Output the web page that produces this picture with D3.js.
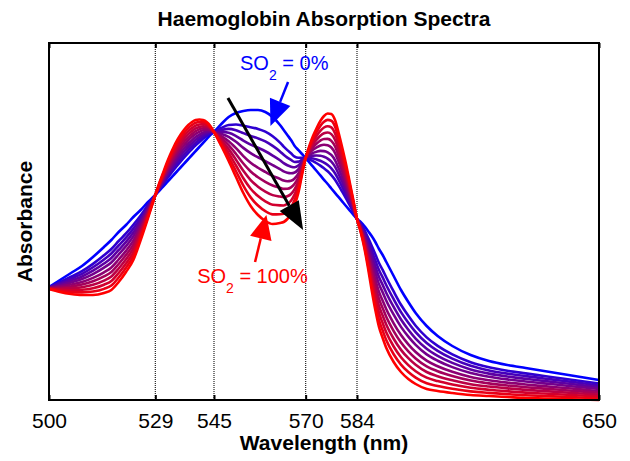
<!DOCTYPE html>
<html>
<head>
<meta charset="utf-8">
<script src="https://cdn.jsdelivr.net/npm/d3@7"></script>
<style>
  body { margin: 0; background: #fff; }
  svg { display: block; font-family: "Liberation Sans", Arial, Helvetica, sans-serif; }
</style>
</head>
<body>
<div id="chart"></div>
<script>
'use strict';

// wavelength samples, nm
var wavelengths = [
  500, 503, 506, 509, 512, 515, 517, 519, 521, 523, 525, 527, 529,
  530, 531, 532, 533, 534, 535, 536, 537, 538, 539, 540, 541, 542, 543, 544, 545,
  547, 549, 551, 553, 555, 557, 559, 561, 563, 564, 565, 566, 567, 568, 569, 570,
  571, 572, 573, 574, 575, 576, 577, 578, 579, 580, 581, 582, 583, 584,
  585, 586, 587, 588, 589, 590, 591, 592, 594, 596, 598, 600,
  603, 606, 610, 615, 620, 625, 630, 635, 640, 645, 650
];

// deoxy-haemoglobin (SO2 = 0%), arbitrary units
var hbAbsorbance = [
  1.13, 1.20, 1.27, 1.34, 1.43, 1.53, 1.60, 1.68, 1.75, 1.83, 1.90, 1.98, 2.05,
  2.09, 2.13, 2.17, 2.21, 2.25, 2.29, 2.33, 2.37, 2.41, 2.45, 2.49, 2.53, 2.57, 2.61, 2.65, 2.68,
  2.76, 2.83, 2.87, 2.89, 2.90, 2.90, 2.88, 2.83, 2.75, 2.70, 2.65, 2.60, 2.54, 2.50, 2.46, 2.42,
  2.376, 2.333, 2.29, 2.246, 2.202, 2.16, 2.115, 2.071, 2.028, 1.984, 1.94, 1.897, 1.854, 1.81,
  1.78, 1.74, 1.69, 1.64, 1.58, 1.51, 1.45, 1.38, 1.24, 1.10, 0.98, 0.87,
  0.74, 0.64, 0.54, 0.45, 0.39, 0.35, 0.32, 0.29, 0.26, 0.23, 0.20
];

// oxy-haemoglobin (SO2 = 100%), arbitrary units
var hbo2Absorbance = [
  1.11, 1.08, 1.06, 1.05, 1.05, 1.07, 1.10, 1.18, 1.28, 1.40, 1.60, 1.82, 2.05,
  2.16, 2.26, 2.36, 2.45, 2.53, 2.60, 2.66, 2.71, 2.75, 2.78, 2.80, 2.805, 2.80, 2.78, 2.74, 2.68,
  2.54, 2.39, 2.23, 2.07, 1.94, 1.85, 1.79, 1.76, 1.77, 1.78, 1.81, 1.86, 1.95, 2.07, 2.25, 2.42,
  2.54, 2.64, 2.72, 2.79, 2.84, 2.865, 2.86, 2.80, 2.67, 2.52, 2.36, 2.18, 2.00, 1.81,
  1.68, 1.52, 1.32, 1.10, 0.90, 0.73, 0.62, 0.52, 0.38, 0.28, 0.21, 0.16,
  0.11, 0.09, 0.07, 0.05, 0.04, 0.03, 0.02, 0.015, 0.01, 0.005, 0.00
];

// oxygen saturation of each plotted spectrum
var so2Levels = [0, 0.18, 0.27, 0.36, 0.45, 0.55, 0.64, 0.73, 0.82, 0.91, 1.0];

var tickValues = [500, 529, 545, 570, 584, 650];
var isosbesticPoints = [529, 545, 570, 584];

var width = 630
  , height = 461
  , margin = { top: 43, right: 31, bottom: 61, left: 49 }
  , fontSize = 21
;

var x = d3.scaleLinear()
    .domain([500, 650])
    .range([margin.left, width - margin.right]);

var y = d3.scaleLinear()
    .domain([0, 3.57])
    .range([height - margin.bottom, margin.top]);

var colour = d3.interpolateRgb('#0000ff', '#ff0000');

var svg = d3.select('#chart').append('svg')
    .attr('width', width)
    .attr('height', height);

// dotted guides at the isosbestic wavelengths
svg.append('g')
  .selectAll('line')
  .data(isosbesticPoints)
  .enter()
  .append('line')
    .attr('x1', function (d) { return x(d); })
    .attr('x2', function (d) { return x(d); })
    .attr('y1', y.range()[1])
    .attr('y2', y.range()[0])
    .attr('stroke', '#222')
    .attr('stroke-width', 1.2)
    .attr('stroke-dasharray', '1,1');

// each spectrum is a mix of the two endpoint spectra (Beer-Lambert)
var spectra = so2Levels.map(function (s) {
  return wavelengths.map(function (w, i) {
    return [w, (1 - s) * hbAbsorbance[i] + s * hbo2Absorbance[i]];
  });
});

var line = d3.line()
    .x(function (d) { return x(d[0]); })
    .y(function (d) { return y(d[1]); })
    .curve(d3.curveMonotoneX);

svg.append('g')
  .selectAll('path')
  .data(spectra)
  .enter()
  .append('path')
    .attr('d', line)
    .attr('fill', 'none')
    .attr('stroke', function (d, i) { return colour(so2Levels[i]); })
    .attr('stroke-width', 2.6)
    .attr('stroke-linejoin', 'round');

// frame
svg.append('rect')
    .attr('x', x.range()[0])
    .attr('y', y.range()[1])
    .attr('width', x.range()[1] - x.range()[0])
    .attr('height', y.range()[0] - y.range()[1])
    .attr('fill', 'none')
    .attr('stroke', '#000')
    .attr('stroke-width', 2);

// inward ticks, labelled along the bottom
var bottomAxis = svg.append('g')
    .attr('transform', 'translate(0,' + y.range()[0] + ')')
    .call(d3.axisBottom(x).tickValues(tickValues).tickSizeInner(-5).tickSizeOuter(0).tickPadding(13).tickFormat(d3.format('d')));

var topAxis = svg.append('g')
    .attr('transform', 'translate(0,' + y.range()[1] + ')')
    .call(d3.axisTop(x).tickValues(tickValues).tickSizeInner(-5).tickSizeOuter(0).tickFormat(''));

[bottomAxis, topAxis].forEach(function (g) {
  g.select('.domain').remove();
  g.selectAll('.tick line').attr('stroke', '#000').attr('stroke-width', 2);
});

bottomAxis.selectAll('.tick text')
    .attr('fill', '#000')
    .style('font-size', fontSize + 'px')
    .style('font-family', '"Liberation Sans", Arial, sans-serif');

// titles
svg.append('text')
    .attr('x', (x.range()[0] + x.range()[1]) / 2)
    .attr('y', 26)
    .attr('text-anchor', 'middle')
    .style('font-size', fontSize + 'px')
    .style('font-weight', 'bold')
    .text('Haemoglobin Absorption Spectra');

svg.append('text')
    .attr('x', (x.range()[0] + x.range()[1]) / 2)
    .attr('y', 450)
    .attr('text-anchor', 'middle')
    .style('font-size', fontSize + 'px')
    .style('font-weight', 'bold')
    .text('Wavelength (nm)');

svg.append('text')
    .attr('transform', 'translate(32,' + (y.range()[0] + y.range()[1]) / 2 + ') rotate(-90)')
    .attr('text-anchor', 'middle')
    .style('font-size', fontSize + 'px')
    .style('font-weight', 'bold')
    .text('Absorbance');

/**
 * Draws a straight arrow with a filled triangular head
 * @param  {Array}  from  - [wavelength, absorbance] of the tail
 * @param  {Array}  to    - [wavelength, absorbance] of the tip
 */
function arrow (from, to, stroke, lineWidth, headLength, headHalf) {
  var x1 = x(from[0]), y1 = y(from[1])
    , x2 = x(to[0]), y2 = y(to[1])
    , dx = x2 - x1, dy = y2 - y1
    , len = Math.sqrt(dx * dx + dy * dy)
    , ux = dx / len, uy = dy / len
    , bx = x2 - ux * headLength, by = y2 - uy * headLength
  ;

  svg.append('line')
      .attr('x1', x1).attr('y1', y1)
      .attr('x2', bx).attr('y2', by)
      .attr('stroke', stroke)
      .attr('stroke-width', lineWidth);

  svg.append('polygon')
      .attr('points', [
        [x2, y2],
        [bx - uy * headHalf, by + ux * headHalf],
        [bx + uy * headHalf, by - ux * headHalf]
      ].join(' '))
      .attr('fill', stroke);
}

arrow([548.8, 3.02], [569.3, 1.70], '#000', 3, 28, 11);
arrow([565.2, 3.18], [560.4, 2.74], '#0000ff', 2.5, 26, 11);
arrow([556.2, 1.38], [559.3, 1.85], '#ff0000', 2.5, 24, 11);

// SO2 labels with subscript
function so2Label (pos, value, fill) {
  var t = svg.append('text')
      .attr('x', x(pos[0]))
      .attr('y', y(pos[1]))
      .attr('fill', fill)
      .style('font-size', '20px');
  t.append('tspan').text('SO');
  t.append('tspan').attr('dy', 10).style('font-size', '14px').text('2');
  t.append('tspan').attr('dy', -10).text(' = ' + value);
}

so2Label([552.1, 3.30], '0%', '#0000ff');
so2Label([540.4, 1.17], '100%', '#ff0000');
</script>
</body>
</html>
